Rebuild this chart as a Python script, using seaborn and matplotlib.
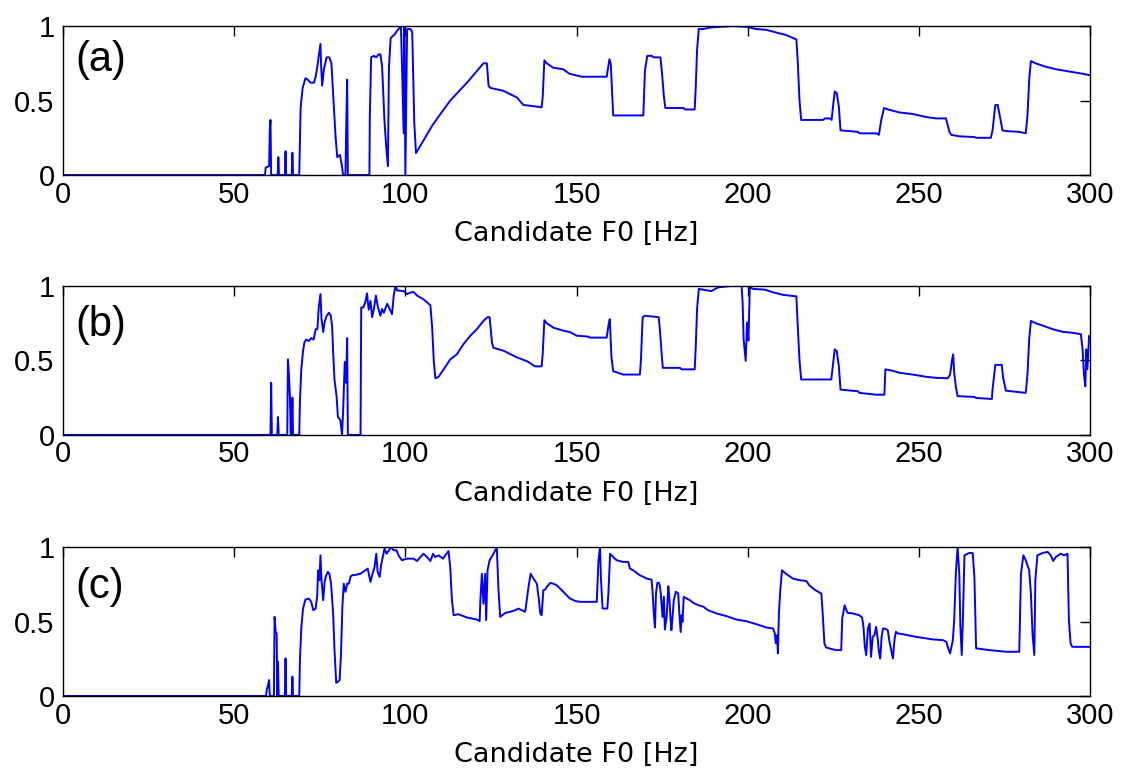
import matplotlib
matplotlib.use("Agg")
import matplotlib.pyplot as plt
import seaborn as sns

# --- dados (F0 candidato em Hz, valor normalizado) ---
panel_labels = ["(a)", "(b)", "(c)"]

f0_a = [0, 59.0, 59.2, 60.2, 60.4, 60.6, 60.8, 62.7, 62.9, 63.1, 64.8, 65.0, 65.2, 66.8, 67.0, 67.2,
        69.0, 69.2, 69.4, 70.0, 70.8, 71.5, 72.3, 73.3, 73.8, 74.3, 74.7, 75.2, 75.4, 75.7, 76.2,
        77.0, 77.8, 78.4, 78.9, 79.6, 80.1, 80.9, 81.5, 81.8, 82.5, 82.7, 83.0, 83.2, 89.5, 89.6,
        90.0, 90.8, 91.5, 92.2, 92.7, 93.2, 93.9, 94.5, 94.9, 95.2, 95.7, 96.2, 96.9, 97.6, 98.4,
        98.7, 99.0, 99.5, 99.7, 100.0, 100.5, 101.5, 102.0, 102.2, 102.6, 103.1, 107.8, 109.3,
        113.1, 118.0, 122.8, 123.8, 124.3, 124.8, 128.7, 132.6, 134.5, 136.5, 139.8, 140.1, 140.6,
        141.3, 143.2, 146.1, 147.9, 151.5, 158.8, 159.6, 160.0, 160.5, 160.7, 169.5, 169.97,
        170.65, 172.0, 172.5, 174.5, 174.9, 175.5, 175.9, 181.2, 181.7, 184.5, 184.8, 185.2,
        185.7, 187.0, 189.0, 192.0, 195.7, 199.6, 202.5, 205.4, 208.3, 211.2, 214.2, 214.6,
        215.1, 215.6, 222.0, 222.5, 224.0, 224.5, 224.9, 225.4, 226.0, 226.6, 227.1, 232.2,
        232.6, 237.6, 238.3, 239.0, 239.8, 241.0, 244.3, 248.2, 252.0, 255.0, 257.9, 258.9,
        259.4, 261.8, 266.2, 266.7, 271.0, 271.5, 272.3, 273.0, 273.6, 274.4, 275.4, 279.3,
        281.2, 281.7, 282.2, 282.7, 284.1, 286.6, 290.0, 293.9, 297.8, 300]
val_a = [0, 0, 0.05, 0.06, 0.30, 0.37, 0, 0, 0.12, 0, 0, 0.16, 0, 0, 0.15, 0,
         0, 0.22, 0.45, 0.585, 0.65, 0.64, 0.62, 0.62, 0.66, 0.73, 0.80, 0.88, 0.73, 0.60, 0.71,
         0.79, 0.79, 0.75, 0.55, 0.26, 0.12, 0.135, 0.056, 0, 0, 0.30, 0.64, 0, 0, 0.37,
         0.79, 0.80, 0.79, 0.81, 0.81, 0.73, 0.36, 0.16, 0.06, 0.72, 0.92, 0.93, 0.945, 0.97, 0.99,
         1.0, 0.75, 0.28, 1.0, 0.0, 0.98, 0.98, 0.96, 0.75, 0.35, 0.147, 0.33, 0.38,
         0.50, 0.62, 0.75, 0.75, 0.60, 0.585, 0.565, 0.52, 0.47, 0.465, 0.455, 0.52, 0.77,
         0.75, 0.72, 0.71, 0.68, 0.66, 0.66, 0.777, 0.745, 0.50, 0.40, 0.40, 0.70,
         0.80, 0.80, 0.79, 0.79, 0.70, 0.53, 0.45, 0.45, 0.44, 0.44, 0.585, 0.84,
         0.98, 0.98, 0.99, 0.995, 1.0, 0.995, 0.98, 0.975, 0.957, 0.94, 0.91, 0.765,
         0.507, 0.37, 0.37, 0.38, 0.38, 0.37, 0.46, 0.56, 0.55, 0.46, 0.30, 0.29,
         0.28, 0.28, 0.27, 0.37, 0.45, 0.44, 0.42, 0.41, 0.39, 0.38, 0.38, 0.29,
         0.27, 0.26, 0.255, 0.25, 0.25, 0.30, 0.47, 0.47, 0.40, 0.30, 0.295, 0.29,
         0.28, 0.40, 0.64, 0.765, 0.75, 0.73, 0.71, 0.695, 0.68, 0.67]

f0_b = [0, 60.6, 60.8, 61.0, 62.6, 62.8, 63.0, 65.5, 65.7, 66.0, 66.3, 66.5, 66.8, 67.0, 67.2,
        69.0, 69.2, 69.6, 70.1, 70.5, 71.0, 71.8, 72.5, 73.2, 73.8, 74.3, 74.7, 75.2, 75.5, 76.0,
        76.4, 77.0, 77.7, 78.2, 78.6, 78.9, 79.3, 79.9, 80.3, 81.0, 81.5, 81.8, 82.3, 82.7, 83.0,
        83.2, 86.9, 87.1, 87.7, 88.3, 88.8, 89.3, 89.8, 90.3, 90.8, 91.4, 91.9, 92.7, 93.2, 93.7,
        94.7, 95.4, 96.1, 96.6, 97.1, 97.6, 99.5, 100.5, 101.5, 102.4, 103.4, 105.3, 107.3,
        107.8, 108.3, 108.75, 109.7, 111.2, 113.1, 115.0, 117.0, 118.95, 120.9, 122.8, 124.0,
        124.6, 125.3, 125.7, 128.7, 132.6, 135.5, 137.9, 139.8, 140.1, 140.6, 141.3, 143.2,
        146.1, 148.1, 150.0, 153.4, 153.9, 158.8, 159.3, 159.7, 160.2, 160.7, 163.6, 168.5,
        168.8, 169.3, 170.0, 174.0, 174.4, 174.9, 175.2, 180.2, 180.7, 184.5, 184.8, 185.2,
        185.7, 189.4, 191.3, 193.3, 195.2, 197.7, 198.2, 198.5, 198.8, 199.4, 199.8, 200.2,
        200.6, 201.6, 205.0, 207.4, 210.3, 214.2, 214.5, 215.1, 215.6, 224.4, 224.9, 225.4,
        226.0, 226.6, 227.1, 232.2, 232.6, 237.5, 239.9, 240.2, 242.4, 244.3, 248.2, 252.1,
        255.0, 258.4, 259.1, 259.7, 260.0, 260.3, 260.8, 261.3, 266.2, 266.7, 271.3, 271.5,
        272.3, 274.2, 274.6, 275.4, 281.2, 281.7, 282.2, 282.7, 284.1, 286.6, 289.0, 292.0,
        295.0, 297.3, 297.8, 298.2, 298.6, 298.9, 299.2, 299.7, 300]
val_b = [0, 0, 0.35, 0, 0, 0.12, 0, 0, 0.507, 0.40, 0.25, 0, 0, 0.25, 0,
         0, 0.225, 0.44, 0.56, 0.62, 0.64, 0.63, 0.65, 0.64, 0.71, 0.71, 0.855, 0.945, 0.78, 0.69,
         0.755, 0.80, 0.82, 0.80, 0.73, 0.56, 0.37, 0.26, 0.12, 0.10, 0, 0.15, 0.49, 0.35, 0.65,
         0, 0, 0.855, 0.855, 0.89, 0.95, 0.84, 0.90, 0.79, 0.845, 0.935, 0.867, 0.80, 0.845, 0.82,
         0.88, 0.845, 0.81, 0.935, 1.0, 0.97, 0.965, 0.945, 0.955, 0.96, 0.935, 0.91, 0.87,
         0.73, 0.497, 0.38, 0.39, 0.44, 0.507, 0.54, 0.61, 0.665, 0.71, 0.765, 0.79,
         0.79, 0.62, 0.585, 0.565, 0.52, 0.495, 0.46, 0.46, 0.54, 0.77, 0.75, 0.72,
         0.70, 0.69, 0.666, 0.66, 0.653, 0.653, 0.733, 0.777, 0.52, 0.428, 0.405, 0.405,
         0.50, 0.79, 0.80, 0.79, 0.69, 0.53, 0.45, 0.45, 0.44, 0.44, 0.585, 0.845,
         0.98, 0.965, 0.99, 0.995, 1.0, 1.0, 1.0, 0.89, 0.64, 0.497, 0.755, 0.633,
         0.99, 0.98, 0.975, 0.957, 0.94, 0.93, 0.78, 0.507, 0.372, 0.372, 0.475, 0.574,
         0.563, 0.462, 0.304, 0.293, 0.282, 0.27, 0.27, 0.44, 0.43, 0.417, 0.405, 0.39,
         0.383, 0.38, 0.405, 0.507, 0.54, 0.417, 0.32, 0.26, 0.255, 0.248, 0.241, 0.304,
         0.47, 0.47, 0.383, 0.297, 0.282, 0.405, 0.642, 0.765, 0.75, 0.73, 0.71, 0.692,
         0.685, 0.676, 0.574, 0.405, 0.326, 0.574, 0.44, 0.665, 0.66]

f0_c = [0, 59.3, 59.5, 59.9, 60.2, 60.4, 61.6, 61.8, 62.1, 62.4, 62.6, 62.8, 63.0, 64.8, 65.0,
        65.2, 66.8, 67.0, 67.2, 69.0, 69.2, 69.6, 70.1, 70.8, 71.8, 72.5, 73.1, 73.8, 74.25, 74.5,
        74.9, 75.2, 75.5, 76.0, 76.4, 76.87, 77.35, 77.8, 78.3, 78.9, 79.3, 79.8, 80.3, 80.8,
        81.2, 81.6, 82.0, 82.5, 83.0, 83.5, 83.97, 84.4, 85.9, 86.9, 88.3, 89.0, 89.8, 90.3,
        91.0, 91.5, 91.9, 92.5, 92.9, 93.5, 93.9, 94.5, 95.2, 95.8, 96.6, 97.4, 98.0, 99.0,
        100.5, 102.4, 103.4, 104.4, 105.3, 106.3, 107.3, 108.1, 108.7, 109.7, 111.0, 111.66,
        112.6, 113.1, 113.6, 114.1, 115.5, 117.0, 118.0, 119.4, 120.9, 121.7, 121.9, 122.35,
        122.8, 123.3, 123.6, 124.0, 124.6, 125.75, 126.7, 127.2, 127.7, 129.2, 130.6, 132.1,
        133.0, 134.0, 135.0, 135.5, 135.96, 136.6, 137.4, 138.4, 138.9, 139.4, 139.8, 140.3,
        140.8, 141.3, 142.3, 143.2, 144.2, 145.7, 147.1, 148.1, 149.6, 151.0, 155.9, 156.4,
        156.85, 157.1, 157.6, 158.99, 159.3, 159.8, 160.7, 161.7, 163.6, 165.1, 165.6, 166.5,
        168.5, 169.5, 170.5, 171.9, 172.2, 172.6, 172.9, 173.2, 173.6, 174.0, 174.3, 174.6,
        175.1, 175.5, 175.8, 176.3, 176.8, 177.1, 177.45, 177.7, 178.0, 178.4, 179.0, 179.7,
        180.0, 180.4, 180.7, 180.95, 181.3, 182.2, 183.1, 184.1, 185.5, 187.0, 188.4, 190.9,
        193.8, 196.7, 199.6, 202.5, 205.4, 207.4, 207.9, 208.2, 208.6, 208.8, 209.1, 209.5,
        210.0, 211.2, 213.2, 215.2, 217.1, 218.0, 219.5, 221.5, 221.8, 222.4, 222.9, 223.9,
        225.8, 227.3, 227.6, 228.3, 228.8, 229.2, 230.7, 232.6, 233.4, 233.8, 234.2, 234.6,
        235.1, 235.6, 236.0, 236.5, 237.0, 237.5, 238.0, 238.3, 238.7, 239.1, 239.5, 240.0,
        240.9, 241.4, 241.9, 242.4, 242.9, 243.3, 243.8, 245.3, 249.2, 254.0, 257.0, 258.0,
        258.4, 259.1, 259.9, 260.3, 260.8, 261.3, 261.8, 262.1, 262.5, 262.8, 263.3, 264.7,
        265.7, 266.2, 266.7, 270.6, 275.4, 279.3, 279.8, 280.5, 281.2, 282.2, 282.7, 283.2,
        283.7, 284.0, 284.6, 286.1, 287.6, 288.5, 289.2, 290.0, 291.4, 292.4, 293.4, 293.8,
        294.3, 294.8, 300]
val_c = [0, 0, 0.04, 0.074, 0.107, 0, 0, 0.531, 0.431, 0.42, 0, 0.23, 0, 0, 0.252,
         0, 0, 0.13, 0, 0, 0.241, 0.453, 0.587, 0.647, 0.654, 0.632, 0.576, 0.587, 0.676, 0.844,
         0.777, 0.944, 0.777, 0.643, 0.766, 0.81, 0.833, 0.821, 0.754, 0.554, 0.308, 0.089, 0.096, 0.107,
         0.286, 0.598, 0.754, 0.699, 0.754, 0.754, 0.80, 0.81, 0.815, 0.821, 0.844, 0.855, 0.766, 0.81,
         0.866, 0.955, 0.833, 0.799, 0.877, 0.944, 0.989, 0.955, 0.978, 1.0, 0.978, 0.978, 0.944, 0.911,
         0.922, 0.922, 0.906, 0.933, 0.955, 0.933, 0.906, 0.955, 0.933, 0.944, 0.922, 0.944,
         0.973, 0.866, 0.643, 0.542, 0.549, 0.536, 0.527, 0.52, 0.513, 0.502, 0.643, 0.82,
         0.62, 0.82, 0.509, 0.844, 0.911, 0.955, 1.0, 0.71, 0.531, 0.558, 0.565, 0.576,
         0.587, 0.576, 0.565, 0.654, 0.732, 0.821, 0.788, 0.754, 0.665, 0.554, 0.542, 0.71,
         0.714, 0.732, 0.759, 0.754, 0.743, 0.71, 0.676, 0.654, 0.638, 0.632, 0.632, 0.911,
         1.0, 0.799, 0.587, 0.587, 0.688, 0.955, 0.933, 0.911, 0.9, 0.9, 0.855, 0.844,
         0.81, 0.80, 0.788, 0.781, 0.70, 0.542, 0.46, 0.688, 0.76, 0.76, 0.743, 0.688,
         0.53, 0.665, 0.446, 0.53, 0.737, 0.654, 0.52, 0.442, 0.52, 0.643, 0.70, 0.688,
         0.565, 0.43, 0.542, 0.498, 0.665, 0.654, 0.643, 0.625, 0.61, 0.60, 0.576, 0.554,
         0.536, 0.513, 0.502, 0.482, 0.46, 0.453, 0.42, 0.353, 0.408, 0.286, 0.553, 0.71,
         0.844, 0.82, 0.788, 0.777, 0.772, 0.743, 0.714, 0.6875, 0.587, 0.353, 0.326, 0.319,
         0.308, 0.308, 0.52, 0.609, 0.576, 0.558, 0.554, 0.542, 0.527, 0.464, 0.33, 0.275,
         0.453, 0.486, 0.263, 0.397, 0.408, 0.464, 0.375, 0.297, 0.252, 0.397, 0.453, 0.453,
         0.442, 0.364, 0.308, 0.252, 0.386, 0.431, 0.42, 0.415, 0.397, 0.38, 0.375, 0.364,
         0.33, 0.286, 0.375, 0.509, 0.833, 1.0, 0.81, 0.464, 0.275, 0.487, 0.944, 0.96,
         0.96, 0.799, 0.32, 0.308, 0.297, 0.297, 0.821, 0.944, 0.911, 0.844, 0.688, 0.408,
         0.275, 0.777, 0.944, 0.96, 0.967, 0.944, 0.906, 0.933, 0.955, 0.944, 0.955, 0.509,
         0.353, 0.33, 0.33]

x_ticks = [0, 50, 100, 150, 200, 250, 300]
y_ticks = [0, 0.5, 1]
y_tick_labels = ["0", "0.5", "1"]

# --- estilo ---
sns.set_theme(style="white")
plt.rcParams['font.family'] = ['Liberation Sans', 'DejaVu Sans']
plt.rcParams['text.color'] = 'black'
plt.rcParams['axes.labelcolor'] = 'black'

fig = plt.figure(figsize=(11.25, 7.78), dpi=100)

# posicoes dos eixos (fração da figura)
bottoms = [0.775, 0.441, 0.1054]
label_y = [0.77, 0.74, 0.73]
series = [(f0_a, val_a), (f0_b, val_b), (f0_c, val_c)]

for i, (xs, ys) in enumerate(series):
    ax = fig.add_axes([0.056, bottoms[i], 0.913, 0.1915])
    sns.lineplot(x=xs, y=ys, estimator=None, sort=False, color='#0000ff', lw=1.4, ax=ax)
    ax.set_xlim(0, 300)
    ax.set_ylim(0, 1)
    ax.set_xticks(x_ticks)
    ax.set_yticks(y_ticks)
    ax.set_yticklabels(y_tick_labels)
    ax.tick_params(direction='in', length=7, width=1, top=True, right=True,
                   labelsize=21, colors='black', pad=4)
    ax.tick_params(axis='y', pad=6)
    for s in ax.spines.values():
        s.set_visible(True)
        s.set_color('black')
        s.set_linewidth(1.0)
    ax.set_xlabel('Candidate F0 [Hz]', fontsize=19.5, labelpad=9,
                  family=['DejaVu Sans'], color='black')
    ax.text(0.012, label_y[i], panel_labels[i], transform=ax.transAxes,
            fontsize=30, ha='left', va='center', color='black')
    ax.grid(False)

plt.savefig('out.png', dpi=100)
